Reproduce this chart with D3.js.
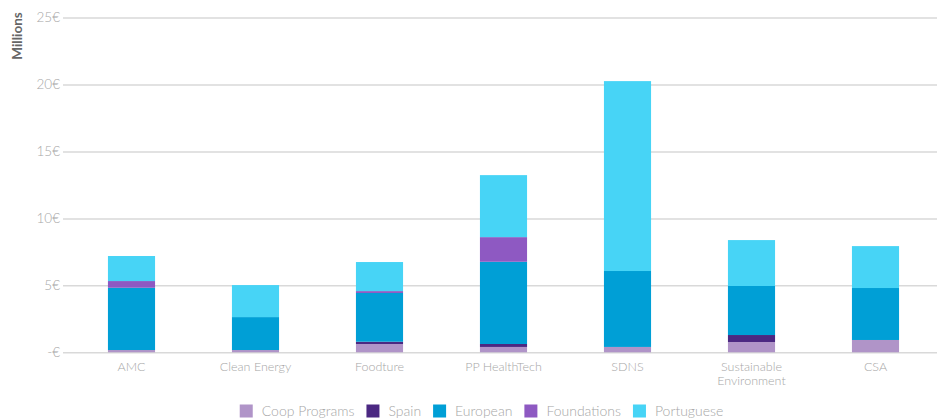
<!DOCTYPE html>
<html>
<head>
<meta charset="utf-8">
<script src="https://cdn.jsdelivr.net/npm/d3@7"></script>
<style>
  body { margin: 0; background: #fff; }
  svg text { font-family: "Lato", "Open Sans", sans-serif; font-weight: 300; }
</style>
</head>
<body>
<div id="wrapper"></div>
<script>
const categories = ["AMC", "Clean Energy", "Foodture", "PP HealthTech", "SDNS", "Sustainable Environment", "CSA"]
const seriesNames = ["Coop Programs", "Spain", "European", "Foundations", "Portuguese"]
const coopPrograms = [0.17, 0.17, 0.62, 0.40, 0.40, 0.77, 0.92]
const spain = [0, 0, 0.17, 0.22, 0, 0.52, 0]
const european = [4.65, 2.46, 3.64, 6.14, 5.67, 3.66, 3.88]
const foundations = [0.50, 0, 0.14, 1.84, 0, 0, 0]
const portuguese = [1.87, 2.39, 2.17, 4.63, 14.18, 3.43, 3.13]
const yTicks = [0, 5, 10, 15, 20, 25]
const colors = ["#b094c8", "#4b2882", "#009fd6", "#8e59c2", "#47d4f6"]

const dataset = categories.map((c, i) => ({
  category: c,
  "Coop Programs": coopPrograms[i],
  "Spain": spain[i],
  "European": european[i],
  "Foundations": foundations[i],
  "Portuguese": portuguese[i]
}))

const width = 937
const height = 420
const margin = { top: 17.5, right: 0, bottom: 68, left: 63 }

const svg = d3.select("#wrapper")
  .append("svg")
    .attr("width", width)
    .attr("height", height)

const yScale = d3.scaleLinear()
  .domain([0, 25])
  .range([352.3, 17.5])

const xScale = d3.scaleBand()
  .domain(categories)
  .range([69.5, 937.5])
  .paddingInner(0.62)
  .paddingOuter(0.31)

// grid + y labels
const yAxisGenerator = d3.axisLeft(yScale)
  .tickValues(yTicks)
  .tickSize(-(width - margin.left))
  .tickPadding(3)
  .tickFormat(d => d === 0 ? "-€" : `${d}€`)

const yAxis = svg.append("g")
  .attr("transform", `translate(${margin.left},0)`)
  .call(yAxisGenerator)
yAxis.select(".domain").remove()
yAxis.selectAll(".tick line")
  .attr("stroke", "#d9d9d9")
  .attr("stroke-width", 1.5)
yAxis.selectAll(".tick text")
  .attr("fill", "#a6a6a6")
  .attr("font-size", 13.5)

svg.append("text")
  .attr("transform", "translate(22,36) rotate(-90)")
  .attr("text-anchor", "middle")
  .attr("fill", "#666")
  .attr("font-size", 13.5)
  .style("font-weight", 700)
  .text("Millions")

// bars
const stack = d3.stack().keys(seriesNames)
const layers = stack(dataset)

svg.append("g")
  .selectAll("g")
  .data(layers)
  .join("g")
    .attr("fill", (d, i) => colors[i])
  .selectAll("rect")
  .data(d => d)
  .join("rect")
    .attr("x", d => xScale(d.data.category))
    .attr("width", xScale.bandwidth())
    .attr("y", d => yScale(d[1]))
    .attr("height", d => yScale(d[0]) - yScale(d[1]))

// x labels
const xLabels = svg.append("g")
  .selectAll("text")
  .data(categories)
  .join("text")
    .attr("x", d => xScale(d) + xScale.bandwidth() / 2)
    .attr("y", 370.5)
    .attr("text-anchor", "middle")
    .attr("fill", "#a6a6a6")
    .attr("font-size", 12.5)

xLabels.each(function(d) {
  const words = d === "Sustainable Environment" ? ["Sustainable", "Environment"] : [d]
  d3.select(this).selectAll("tspan")
    .data(words)
    .join("tspan")
      .attr("x", xScale(d) + xScale.bandwidth() / 2)
      .attr("dy", (w, i) => i === 0 ? 0 : 14)
      .text(w => w)
})

// legend
const legend = svg.append("g")
let offset = 0
seriesNames.forEach((name, i) => {
  const item = legend.append("g").attr("transform", `translate(${offset},0)`)
  item.append("rect")
    .attr("width", 13)
    .attr("height", 13)
    .attr("y", -6.5)
    .attr("fill", colors[i])
  const t = item.append("text")
    .attr("x", 22)
    .attr("dy", "0.35em")
    .attr("fill", "#a6a6a6")
    .attr("font-size", 14)
    .text(name)
  offset += 22 + t.node().getComputedTextLength() + 12
})
const legendWidth = offset - 12
legend.attr("transform", `translate(${481.5 - legendWidth / 2},411)`)
</script>
</body>
</html>
